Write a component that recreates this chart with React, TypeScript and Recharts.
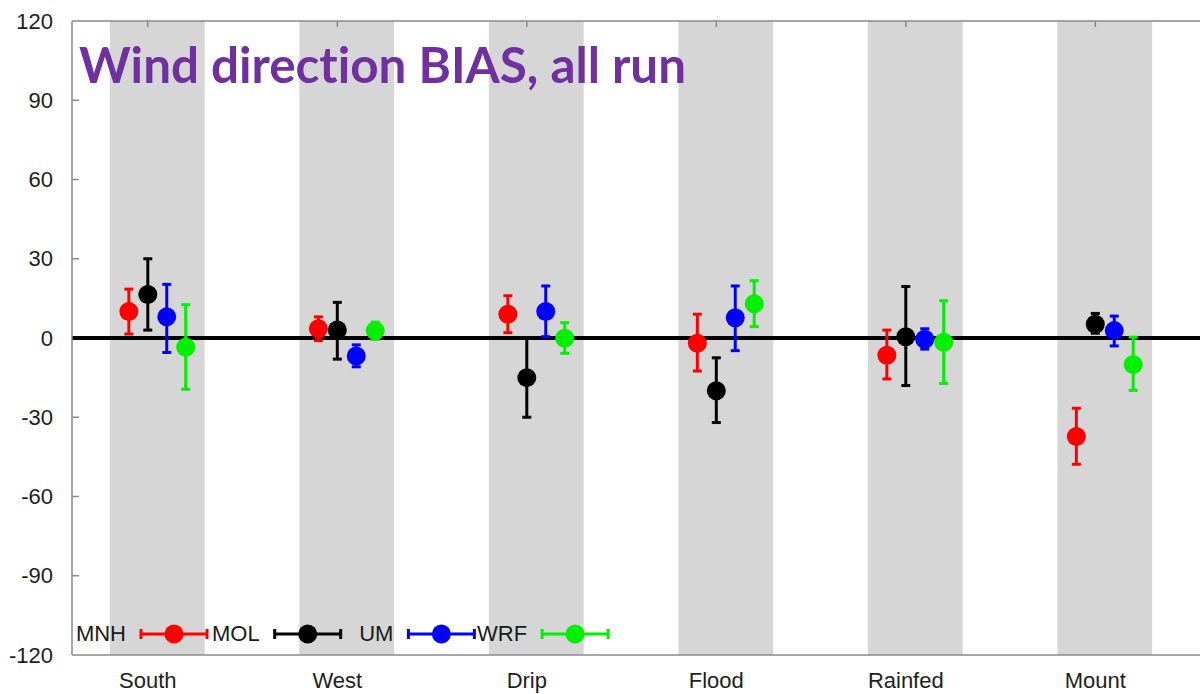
import { ScatterChart, Scatter, XAxis, YAxis, ErrorBar, ReferenceArea, ReferenceLine } from 'recharts';

// categories and axis ticks
const categories = ['South', 'West', 'Drip', 'Flood', 'Rainfed', 'Mount'];
const yTicks = [-120, -90, -60, -30, 0, 30, 60, 90, 120];
const xTicks = [0, 1, 2, 3, 4, 5];

// bias mean, lower and upper end of the error bar, per category
const mnhMean = [10, 3.5, 9, -2, -6.5, -37.3];
const mnhLow = [1.5, -1, 2, -12.5, -15.5, -47.8];
const mnhHigh = [18.5, 8, 16, 9, 3, -26.6];

const molMean = [16.5, 3, -15, -20, 0.5, 5.2];
const molLow = [3, -8, -30, -32, -18, 1.8];
const molHigh = [30, 13.5, 0, -7.5, 19.5, 9.3];

const umMean = [8, -6.8, 10, 7.7, -0.5, 2.8];
const umLow = [-5.5, -10.9, 0.5, -4.8, -4.2, -3];
const umHigh = [20.3, -2.6, 19.7, 19.7, 3.5, 8.3];

const wrfMean = [-3.5, 2.8, -0.1, 13, -1.6, -10];
const wrfLow = [-19.4, -0.5, -5.8, 4.3, -17.2, -19.8];
const wrfHigh = [12.6, 6, 5.8, 21.7, 14.1, 0.3];

const series = [
  { name: 'MNH', color: '#ff0000', offset: -0.1, mean: mnhMean, low: mnhLow, high: mnhHigh },
  { name: 'MOL', color: '#000000', offset: 0, mean: molMean, low: molLow, high: molHigh },
  { name: 'UM', color: '#0000ff', offset: 0.1, mean: umMean, low: umLow, high: umHigh },
  { name: 'WRF', color: '#00f000', offset: 0.2, mean: wrfMean, low: wrfLow, high: wrfHigh },
];

const buildRows = (s: (typeof series)[number]) =>
  categories.map((_, i) => ({
    x: i + s.offset,
    y: s.mean[i],
    err: [s.mean[i] - s.low[i], s.high[i] - s.mean[i]],
  }));

const FONT = '"Liberation Sans", Arial, sans-serif';
const AXIS = '#8a8a8a';

const YTick = (props: any) => {
  const { x, y, payload } = props;
  // the zero line and the frame already cover 0 and +-120
  const mark = Math.abs(payload.value) !== 120 && payload.value !== 0;
  return (
    <g>
      {mark && <line x1={x + 19} x2={x + 26} y1={y} y2={y} stroke={AXIS} strokeWidth={1.5} />}
      <text x={x} y={y} dy="0.35em" textAnchor="end" fontFamily={FONT} fontSize={22} fill="#1e1e1e">
        {payload.value}
      </text>
    </g>
  );
};

const XTick = (props: any) => {
  const { x, y, payload } = props;
  return (
    <text x={x} y={y + 33} textAnchor="middle" fontFamily={FONT} fontSize={22} fill="#1e1e1e">
      {categories[payload.value]}
    </text>
  );
};

const TopTick = (props: any) => {
  const { x, y } = props;
  return <line x1={x} x2={x} y1={y} y2={y + 6} stroke={AXIS} strokeWidth={1.5} />;
};

const Legend = () => (
  <svg width={1200} height={694} style={{ position: 'absolute', left: 0, top: 0, pointerEvents: 'none' }}>
    <text
      x={79}
      y={83}
      fontFamily="Lato, 'Open Sans', sans-serif"
      fontWeight={700}
      fontSize={50}
      fill="#7030a0"
      textLength={607}
      lengthAdjust="spacingAndGlyphs"
      style={{ fontVariantLigatures: 'none' }}
    >
      Wind direction BIAS, all run
    </text>
    {series.map((s, k) => {
      const x0 = 141 + k * 133.7;
      return (
        <g key={s.name}>
          <text x={x0 - 15} y={641} textAnchor="end" fontFamily={FONT} fontSize={22} fill="#1a1a1a">
            {s.name}
          </text>
          <line x1={x0} x2={x0 + 66} y1={634} y2={634} stroke={s.color} strokeWidth={3} />
          <line x1={x0} x2={x0} y1={629} y2={639} stroke={s.color} strokeWidth={3} />
          <line x1={x0 + 66} x2={x0 + 66} y1={629} y2={639} stroke={s.color} strokeWidth={3} />
          <circle cx={x0 + 33} cy={634} r={9.5} fill={s.color} />
        </g>
      );
    })}
  </svg>
);

export default function App() {
  return (
    <div style={{ position: 'absolute', left: 0, top: 0, width: 1200, height: 694, overflow: 'hidden', background: '#fff' }}>
      <ScatterChart width={1215} height={694} margin={{ top: 0, right: 6, bottom: 0, left: 0 }}>
        <XAxis
          type="number"
          dataKey="x"
          domain={[-0.4, 5.6]}
          ticks={xTicks}
          interval={0}
          allowDataOverflow
          height={39}
          tickSize={0}
          tickMargin={0}
          tickLine={false}
          axisLine={{ stroke: AXIS, strokeWidth: 1.5 }}
          tick={<XTick />}
        />
        <XAxis
          xAxisId="top"
          orientation="top"
          type="number"
          dataKey="x"
          domain={[-0.4, 5.6]}
          ticks={xTicks}
          interval={0}
          allowDataOverflow
          height={21}
          tickSize={0}
          tickMargin={0}
          tickLine={false}
          axisLine={{ stroke: AXIS, strokeWidth: 1.5 }}
          tick={<TopTick />}
        />
        <YAxis
          type="number"
          dataKey="y"
          domain={[-120, 120]}
          ticks={yTicks}
          interval={0}
          allowDataOverflow
          width={72}
          tickSize={0}
          tickMargin={19}
          tickLine={false}
          axisLine={{ stroke: AXIS, strokeWidth: 1.5 }}
          tick={<YTick />}
        />
        {xTicks.map((i) => (
          <ReferenceArea
            key={i}
            x1={i - 0.2}
            x2={i + 0.3}
            y1={-120}
            y2={120}
            fill="#d6d6d6"
            fillOpacity={1}
            stroke="none"
          />
        ))}
        <ReferenceLine y={0} stroke="#000" strokeWidth={4} />
        {series.map((s) => (
          <Scatter
            key={s.name}
            name={s.name}
            data={buildRows(s)}
            fill={s.color}
            isAnimationActive={false}
            shape={(p: any) => <circle cx={p.cx} cy={p.cy} r={9.5} fill={s.color} />}
          >
            <ErrorBar dataKey="err" direction="y" width={4.5} strokeWidth={3} stroke={s.color} />
          </Scatter>
        ))}
      </ScatterChart>
      <Legend />
    </div>
  );
}
